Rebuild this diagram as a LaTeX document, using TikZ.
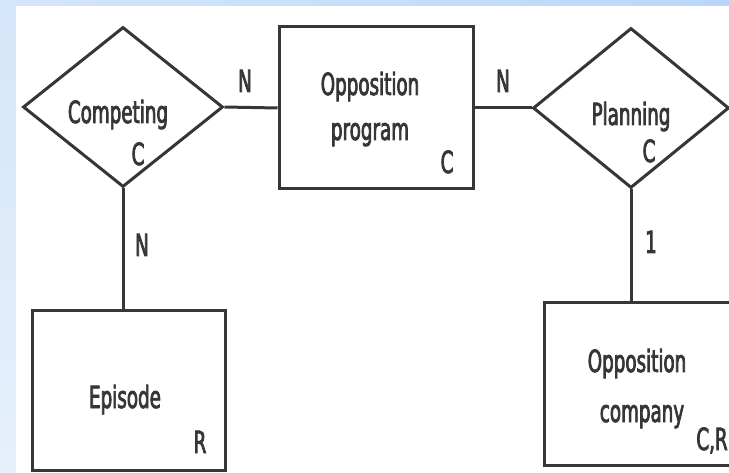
\documentclass[tikz,border=0pt]{standalone}
\usepackage{fontspec}
\setmainfont[FakeStretch=0.6,FakeBold=2.4]{DejaVu Sans}
\usetikzlibrary{shapes.geometric}
\definecolor{ink}{HTML}{363636}
\definecolor{skyA}{HTML}{D4E6F9}
\definecolor{skyB}{HTML}{B9D7FB}
\definecolor{skyC}{HTML}{E6F0FB}
\begin{document}
\begin{tikzpicture}[x=1pt,y=-1pt,
  entity/.style={draw=ink,line width=3pt,rectangle,inner sep=0pt},
  relation/.style={draw=ink,line width=3pt,diamond,inner sep=0pt},
  link/.style={draw=ink,line width=3pt},
  txt/.style={text=ink,font=\fontsize{30.5}{33}\selectfont,inner sep=0pt,anchor=base}]
\useasboundingbox (0,0) rectangle (729,473);
\clip (0,0) rectangle (729,473);
% framed background
\shade[left color=skyA,right color=skyB] (0,0) rectangle (729,473);
\shade[top color=skyA,bottom color=skyC] (0,6) rectangle (16,473);
\fill[white] (16,6) rectangle (729,473);

% relationships
\node[relation,minimum width=200pt,minimum height=160pt] (compete) at (123,107) {};
\node[relation,minimum width=196pt,minimum height=160pt] (plan) at (631,108) {};

% entities
\node[entity,minimum width=194pt,minimum height=162pt] (program) at (376,108) {};
\node[entity,minimum width=193pt,minimum height=159pt] (episode) at (128.5,390.5) {};
\node[entity,minimum width=216pt,minimum height=162pt] (company) at (652,384) {};

% connectors
\draw[link] (compete.east) -- (program.west);
\draw[link] (program.east) -- (plan.west);
\draw[link] (compete.south) -- (compete.south |- episode.north);
\draw[link] (plan.south) -- (plan.south |- company.north);

% cardinalities
\node[txt] (n1) at (245,92) {N};
\node[txt] (n2) at (503,92) {N};
\node[txt] (n3) at (142,256) {N};
\node[txt] (one) at (651,253) {1};

% texts
\node[txt] (tcomp) at (118,123) {Competing};
\node[txt] (tcompc) at (138,165) {C};
\node[txt] (tprog1) at (370,95) {Opposition};
\node[txt] (tprog2) at (370,140) {program};
\node[txt] (tprogc) at (447,173) {C};
\node[txt] (tplan) at (631,125) {Planning};
\node[txt] (tplanc) at (649,162) {C};
\node[txt] (tepi) at (125,408) {Episode};
\node[txt] (tepir) at (200,453) {R};
\node[txt] (tco1) at (637,372) {Opposition};
\node[txt] (tco2) at (642,422) {company};
\node[txt] (tcocr) at (712,450) {C,R};
\end{tikzpicture}
\end{document}
